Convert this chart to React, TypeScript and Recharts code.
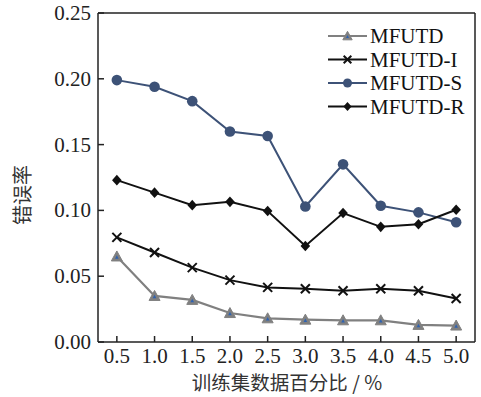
import React from 'react';
import { LineChart, Line, XAxis, YAxis } from 'recharts';

const ratios = [0.5, 1.0, 1.5, 2.0, 2.5, 3.0, 3.5, 4.0, 4.5, 5.0];
const mfutd = [0.065, 0.035, 0.032, 0.022, 0.018, 0.017, 0.0165, 0.0165, 0.013, 0.0125];
const mfutdI = [0.0795, 0.068, 0.0565, 0.047, 0.0415, 0.0405, 0.039, 0.0405, 0.039, 0.033];
const mfutdS = [0.199, 0.194, 0.183, 0.160, 0.1565, 0.103, 0.135, 0.1035, 0.0985, 0.091];
const mfutdR = [0.123, 0.1135, 0.104, 0.1065, 0.0995, 0.073, 0.098, 0.0875, 0.0895, 0.1005];
const yTicks = [0, 0.05, 0.1, 0.15, 0.2, 0.25];
const seriesNames = ['MFUTD', 'MFUTD-I', 'MFUTD-S', 'MFUTD-R'];

const data = ratios.map((r, i) => ({
  ratio: r,
  mfutd: mfutd[i],
  mfutdI: mfutdI[i],
  mfutdS: mfutdS[i],
  mfutdR: mfutdR[i],
}));

const SERIF = 'Liberation Serif, Times New Roman, serif';
const CJK = 'Noto Sans CJK SC, sans-serif';
const AXIS = '#222';
const GRAY = '#808080';
const BLUE = '#3d5277';

const Triangle = ({ cx, cy, s = 1 }: any) => (
  <g>
    <polygon points={`${cx},${cy - 5.5 * s} ${cx - 5.5 * s},${cy + 4.5 * s} ${cx + 5.5 * s},${cy + 4.5 * s}`} fill={GRAY} stroke={GRAY} strokeWidth={1} />
    <polygon points={`${cx},${cy - 1.2 * s} ${cx - 1.8 * s},${cy + 2.3 * s} ${cx + 1.8 * s},${cy + 2.3 * s}`} fill="#2f62b0" />
  </g>
);
const Cross = ({ cx, cy, s = 1 }: any) => (
  <g stroke="#111" strokeWidth={2}>
    <line x1={cx - 4.5 * s} y1={cy - 4.5 * s} x2={cx + 4.5 * s} y2={cy + 4.5 * s} />
    <line x1={cx - 4.5 * s} y1={cy + 4.5 * s} x2={cx + 4.5 * s} y2={cy - 4.5 * s} />
  </g>
);
const Circle = ({ cx, cy, s = 1 }: any) => <circle cx={cx} cy={cy} r={5.3 * s} fill={BLUE} />;
const Diamond = ({ cx, cy, s = 1 }: any) => (
  <polygon points={`${cx},${cy - 5.3 * s} ${cx + 4.8 * s},${cy} ${cx},${cy + 5.3 * s} ${cx - 4.8 * s},${cy}`} fill="#111" />
);

const markers = [Triangle, Cross, Circle, Diamond];
const colors = [GRAY, '#111', BLUE, '#111'];

const YTick = ({ x, y, payload }: any) => {
  const ax = x + 7;
  return (
    <g>
      <line x1={ax} y1={y} x2={ax + 6} y2={y} stroke={AXIS} strokeWidth={1.5} />
      <text x={x} y={y + 7} textAnchor="end" fontFamily={SERIF} fontSize={21} fill="#222">
        {payload.value.toFixed(2)}
      </text>
    </g>
  );
};

const XTick = ({ x, y, payload }: any) => {
  const ay = y - 6;
  return (
    <g>
      <line x1={x} y1={ay} x2={x} y2={ay - 6} stroke={AXIS} strokeWidth={1.5} />
      <text x={x} y={ay + 21} textAnchor="middle" fontFamily={SERIF} fontSize={21} fill="#222">
        {payload.value.toFixed(1)}
      </text>
    </g>
  );
};

const LegendBox = () => (
  <svg width={150} height={100} style={{ position: 'absolute', left: 325, top: 24 }}>
    {seriesNames.map((name, i) => {
      const M = markers[i];
      const cy = 12 + i * 23.5;
      return (
        <g key={name}>
          <line x1={3} y1={cy} x2={42} y2={cy} stroke={colors[i]} strokeWidth={2} />
          <M cx={22.5} cy={cy} s={0.85} />
          <text x={45} y={cy + 7} fontFamily={SERIF} fontSize={21} fill="#111">{name}</text>
        </g>
      );
    })}
  </svg>
);

const renderDot = (M: any) => (props: any) => <M key={props.index} cx={props.cx} cy={props.cy} />;

export default function App() {
  return (
    <div style={{ position: 'absolute', left: 0, top: 0, width: 481, height: 397, background: '#fff', fontFamily: SERIF }}>
      <LineChart width={481} height={397} data={data} margin={{ top: 12, right: 5, left: 0, bottom: 0 }}>
        <XAxis
          dataKey="ratio"
          type="number"
          domain={[0.25, 5.25]}
          ticks={ratios}
          height={55}
          tickSize={0}
          tickMargin={6}
          tick={<XTick />}
          axisLine={{ stroke: AXIS, strokeWidth: 1.5 }}
          label={{
            content: () => (
              <text x={287} y={390} textAnchor="middle" fontFamily={CJK} fontSize={19.5} fill="#333">
                训练集数据百分比 / %
              </text>
            ),
          }}
        />
        <XAxis xAxisId="top" orientation="top" dataKey="ratio" type="number" domain={[0.25, 5.25]} height={1} tick={false} tickLine={false} axisLine={{ stroke: AXIS, strokeWidth: 1.5 }} />
        <YAxis
          type="number"
          domain={[0, 0.25]}
          ticks={yTicks}
          width={98}
          tickSize={0}
          tickMargin={7}
          tick={<YTick />}
          axisLine={{ stroke: AXIS, strokeWidth: 1.5 }}
          label={{
            content: () => (
              <text transform="translate(30,195) rotate(-90)" textAnchor="middle" fontFamily={CJK} fontSize={20} fill="#333">
                错误率
              </text>
            ),
          }}
        />
        <YAxis yAxisId="right" orientation="right" domain={[0, 0.25]} width={1} tick={false} tickLine={false} axisLine={{ stroke: AXIS, strokeWidth: 1.5 }} />
        <Line dataKey="mfutd" stroke={GRAY} strokeWidth={2.2} dot={renderDot(Triangle)} isAnimationActive={false} />
        <Line dataKey="mfutdI" stroke="#111" strokeWidth={2} dot={renderDot(Cross)} isAnimationActive={false} />
        <Line dataKey="mfutdS" stroke={BLUE} strokeWidth={2} dot={renderDot(Circle)} isAnimationActive={false} />
        <Line dataKey="mfutdR" stroke="#111" strokeWidth={2} dot={renderDot(Diamond)} isAnimationActive={false} />
      </LineChart>
      <LegendBox />
    </div>
  );
}
